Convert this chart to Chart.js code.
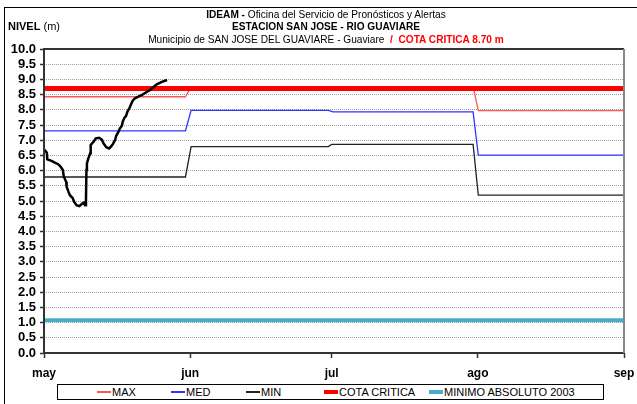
<!DOCTYPE html>
<html lang="es">
<head>
<meta charset="UTF-8" />
<title>IDEAM | Estación San José - Río Guaviare</title>
<script src="https://cdn.jsdelivr.net/npm/chart.js"></script>
<style>
  body { margin: 0; background: #fff; }
  #wrap { position: relative; width: 637px; height: 404px; overflow: hidden;
          font-family: "Liberation Sans", Arial, sans-serif; }
  #frame { position: absolute; left: 4px; top: 7px; width: 650px; height: 420px;
           border: 1.5px solid #000; box-sizing: border-box; }
  #chart { position: absolute; left: 0; top: 0; }
  .t { position: absolute; left: 0; width: 652px; text-align: center; font-size: 11px;
       line-height: 12px; white-space: nowrap; color: #000; transform: scaleX(0.92); }
  .red { color: #ff0000; font-weight: bold; }
  #nivel { position: absolute; left: 8px; top: 20px; font-size: 11px; line-height: 12px; }
  #legend { position: absolute; left: 57px; top: 384px; width: 547px; height: 16px;
            border: 1px solid #000; box-sizing: border-box; background: #fff; }
  .item { position: absolute; top: 0; height: 14px; display: flex; align-items: center;
          font-size: 11px; white-space: nowrap; }
  .swatch { width: 14px; margin-right: 1px; }
</style>
</head>
<body>
<div id="wrap">
  <div id="frame"></div>
  <canvas id="chart" width="637" height="404"></canvas>
  <div class="t" style="top:8px"><b>IDEAM -</b> Oficina del Servicio de Pronósticos y Alertas</div>
  <div class="t" style="top:20px"><b>ESTACION SAN JOSE - RIO GUAVIARE</b></div>
  <div class="t" style="top:33px">Municipio de SAN JOSE DEL GUAVIARE - Guaviare <span class="red">&nbsp;/&nbsp; COTA CRITICA 8.70 m</span></div>
  <div id="nivel"><b>NIVEL</b> (m)</div>
  <div id="legend"></div>
</div>

<script>
  // meses del eje x (días contados desde el 1 de mayo)
  const monthLabels = ['may', 'jun', 'jul', 'ago', 'sep'];
  const monthDays = [0, 31, 61, 92, 123];

  // niveles históricos
  const maxDays = [0, 30, 31, 91.1, 92.1, 123];
  const maxLevels = [8.43, 8.43, 8.70, 8.70, 7.97, 7.97];
  const medDays = [0, 30, 31.2, 60.3, 61.3, 91, 92.1, 123];
  const medLevels = [7.31, 7.31, 7.98, 7.98, 7.93, 7.93, 6.51, 6.51];
  const minDays = [0, 30, 31.2, 60.3, 61, 91, 92.1, 123];
  const minLevels = [5.79, 5.79, 6.79, 6.79, 6.86, 6.86, 5.19, 5.19];

  const cotaCritica = 8.70;
  const minimoAbsoluto = 1.08;

  // nivel observado
  const obsDays = [0, 0.6, 0.7, 1.6, 2.3, 3.0, 3.5, 4.0, 4.2, 4.7,
                   4.8, 5.2, 5.5, 6.1, 6.4, 6.9, 7.5, 8.0, 8.4, 8.7,
                   8.9, 9.0, 9.1, 9.4, 9.8, 9.9, 10.5, 11.0, 11.7, 12.3,
                   12.6, 13.2, 13.8, 14.2, 14.6, 15.1, 15.3, 15.8, 16.1, 16.5,
                   16.7, 17.0, 17.4, 17.7, 18.1, 18.4, 18.8, 19.3, 20.0, 20.8,
                   21.5, 22.5, 23.9, 25.0, 26.1];
  const obsLevels = [6.70, 6.59, 6.37, 6.32, 6.26, 6.21, 6.13, 6.02, 5.80, 5.63,
                     5.47, 5.30, 5.19, 5.09, 4.97, 4.86, 4.83, 4.90, 4.94, 4.86,
                     5.03, 6.02, 6.24, 6.40, 6.57, 6.84, 6.95, 7.06, 7.08, 7.01,
                     6.90, 6.77, 6.73, 6.79, 6.87, 7.01, 7.14, 7.28, 7.39, 7.47,
                     7.61, 7.72, 7.80, 7.94, 8.05, 8.16, 8.30, 8.38, 8.43, 8.49,
                     8.56, 8.65, 8.84, 8.92, 8.98];

  const pts = (xs, ys) => xs.map((x, i) => ({ x: x, y: ys[i] }));
  const flat = v => pts([monthDays[0], monthDays[monthDays.length - 1]], [v, v]);

  const line = (label, data, color, width) => ({
    label: label, data: data, borderColor: color, backgroundColor: color,
    borderWidth: width, showLine: true, pointRadius: 0, tension: 0, fill: false
  });

  // Chart.js pinta el primer dataset encima de los demás
  const datasets = [
    line('NIVEL', pts(obsDays, obsLevels), '#000000', 2.5),
    line('COTA CRITICA', flat(cotaCritica), '#ff0000', 5),
    line('MAX', pts(maxDays, maxLevels), '#ff5555', 1.3),
    line('MED', pts(medDays, medLevels), '#3333ff', 1.3),
    line('MIN', pts(minDays, minLevels), '#222222', 1.3),
    line('MINIMO ABSOLUTO 2003', flat(minimoAbsoluto), '#4bacc6', 4)
  ];

  // leyenda inferior
  const legendOrder = ['MAX', 'MED', 'MIN', 'COTA CRITICA', 'MINIMO ABSOLUTO 2003'];
  const legendLeft = [39, 113, 188, 266, 371];
  const legend = document.getElementById('legend');
  legendOrder.forEach((name, i) => {
    const ds = datasets.find(d => d.label === name);
    const item = document.createElement('div');
    item.className = 'item';
    item.style.left = legendLeft[i] + 'px';
    const sw = document.createElement('span');
    sw.className = 'swatch';
    sw.style.height = (ds.borderWidth > 2 ? 4 : 1.5) + 'px';
    sw.style.background = ds.borderColor;
    item.appendChild(sw);
    item.appendChild(document.createTextNode(name));
    legend.appendChild(item);
  });

  // marco del área de trazado
  const plotFrame = {
    id: 'plotFrame',
    afterDraw(chart) {
      const { ctx, chartArea: a } = chart;
      ctx.save();
      ctx.lineWidth = 2;
      ctx.strokeStyle = '#333';
      ctx.beginPath();
      ctx.moveTo(a.right, a.top); ctx.lineTo(a.left, a.top);
      ctx.lineTo(a.left, a.bottom); ctx.lineTo(a.right, a.bottom);
      ctx.stroke();
      ctx.strokeStyle = '#888';
      ctx.beginPath();
      ctx.moveTo(a.right, a.top); ctx.lineTo(a.right, a.bottom);
      ctx.stroke();
      ctx.restore();
    }
  };

  new Chart(document.getElementById('chart'), {
    type: 'scatter',
    data: { datasets: datasets },
    plugins: [plotFrame],
    options: {
      responsive: false,
      animation: false,
      layout: { padding: { top: 49, right: 13, left: 0, bottom: 0 } },
      plugins: { legend: { display: false }, tooltip: { enabled: false } },
      scales: {
        x: {
          type: 'linear',
          min: monthDays[0],
          max: monthDays[monthDays.length - 1],
          afterBuildTicks: s => { s.ticks = monthDays.map(v => ({ value: v })); },
          afterFit: s => { s.height = 51; s.paddingLeft = 0; s.paddingRight = 0; },
          ticks: {
            autoSkip: false, maxRotation: 0, padding: 8, color: '#000',
            font: { family: '"Liberation Sans", Arial, sans-serif', size: 12, weight: 'bold' },
            callback: (v, i) => monthLabels[i]
          },
          grid: { drawOnChartArea: false, tickLength: 5, tickColor: '#333', tickWidth: 1.5 },
          border: { display: false }
        },
        y: {
          min: 0, max: 10,
          afterFit: s => { s.width = 44; s.paddingTop = 0; s.paddingBottom = 0; },
          ticks: {
            stepSize: 0.5, autoSkip: false, padding: 4, color: '#000',
            font: { family: '"Liberation Sans", Arial, sans-serif', size: 13, weight: 'bold' },
            callback: v => v.toFixed(1)
          },
          grid: { color: '#a0a0a0', lineWidth: 1, tickLength: 4, tickColor: '#333',
                  tickWidth: 1.5, tickBorderDash: [] },
          border: { display: false, dash: [1, 1] }
        }
      }
    }
  });
</script>
</body>
</html>
